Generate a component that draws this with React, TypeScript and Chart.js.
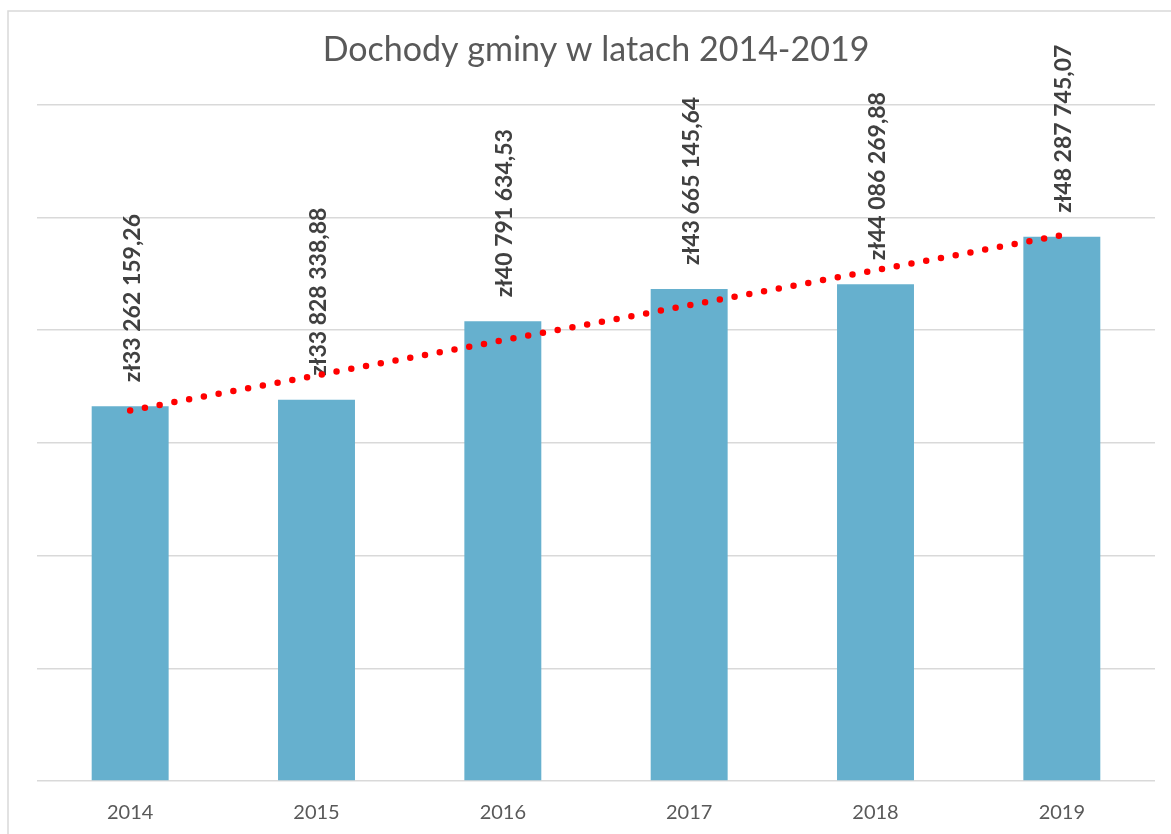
import React, { useEffect, useRef } from "react";
import { Chart, registerables } from "chart.js";

Chart.register(...registerables);

const TITLE = "Dochody gminy w latach 2014-2019";
const categories = ["2014", "2015", "2016", "2017", "2018", "2019"];
const revenues = [33262159.26, 33828338.88, 40791634.53, 43665145.64, 44086269.88, 48287745.07];
const trendValues = [32880000, 35990000, 39100000, 42210000, 45320000, 48430000];
const yMax = 60000000;
const yStep = 10000000;

const FONT = "Lato, 'Open Sans', sans-serif";

function formatZl(v: number): string {
  const [intPart, dec] = v.toFixed(2).split(".");
  const grouped = intPart.replace(/\B(?=(\d{3})+(?!\d))/g, " ");
  return "zł" + grouped + "," + dec;
}

const framePlugin = {
  id: "frame",
  beforeDraw(chart: any) {
    const ctx = chart.ctx;
    ctx.save();
    ctx.fillStyle = "#ffffff";
    ctx.fillRect(0, 0, chart.width, chart.height);
    ctx.strokeStyle = "#d9d9d9";
    ctx.lineWidth = 1.5;
    ctx.strokeRect(8, 11, chart.width + 20, chart.height + 20);
    ctx.restore();
  },
};

const labelPlugin = {
  id: "barLabels",
  afterDatasetDraw(chart: any, args: any) {
    if (args.index !== 0) return;
    const ctx = chart.ctx;
    const meta = chart.getDatasetMeta(0);
    ctx.save();
    ctx.font = "bold 23px " + FONT;
    ctx.fillStyle = "#404040";
    ctx.textAlign = "left";
    ctx.textBaseline = "middle";
    meta.data.forEach((el: any, i: number) => {
      ctx.save();
      ctx.translate(el.x + 2, el.y - 24);
      ctx.rotate(-Math.PI / 2);
      ctx.fillText(formatZl(revenues[i]), 0, 0);
      ctx.restore();
    });
    ctx.restore();
  },
};

export default function App() {
  const ref = useRef<HTMLCanvasElement | null>(null);
  useEffect(() => {
    if (!ref.current) return;
    const chart = new Chart(ref.current, {
      type: "bar",
      data: {
        labels: categories,
        datasets: [
          {
            type: "bar",
            label: "Dochody",
            data: revenues,
            backgroundColor: "rgb(102,176,206)",
            categoryPercentage: 1,
            barPercentage: 0.413,
            order: 1,
          },
          {
            type: "line",
            label: "Trend",
            data: trendValues,
            borderColor: "#ff0000",
            borderWidth: 6.5,
            borderDash: [0, 15],
            borderCapStyle: "round",
            pointRadius: 0,
            fill: false,
            order: 0,
          } as any,
        ],
      },
      options: {
        responsive: false,
        animation: false,
        layout: { padding: { left: 37, right: 16, top: 0, bottom: 0 } },
        plugins: {
          legend: { display: false },
          tooltip: { enabled: false },
          title: {
            display: true,
            text: TITLE,
            color: "#595959",
            font: { family: FONT, size: 34, weight: "normal" },
            padding: { top: 30, bottom: 34 },
          },
        },
        scales: {
          x: {
            grid: { display: false },
            border: { display: false },
            ticks: {
              color: "#595959",
              font: { family: FONT, size: 20 },
              padding: 12,
            },
            afterFit: (s: any) => {
              s.height = 53;
            },
          },
          y: {
            min: 0,
            max: yMax,
            ticks: { display: false, stepSize: yStep },
            grid: { color: "#d9d9d9", lineWidth: 1.5, drawTicks: false },
            border: { display: false },
            afterFit: (s: any) => {
              s.width = 0;
            },
          },
        },
      } as any,
      plugins: [framePlugin, labelPlugin],
    });
    return () => chart.destroy();
  }, []);
  return (
    <div style={{ position: "absolute", left: 0, top: 0, width: 1171, height: 834 }}>
      <canvas ref={ref} width={1171} height={834} />
    </div>
  );
}
